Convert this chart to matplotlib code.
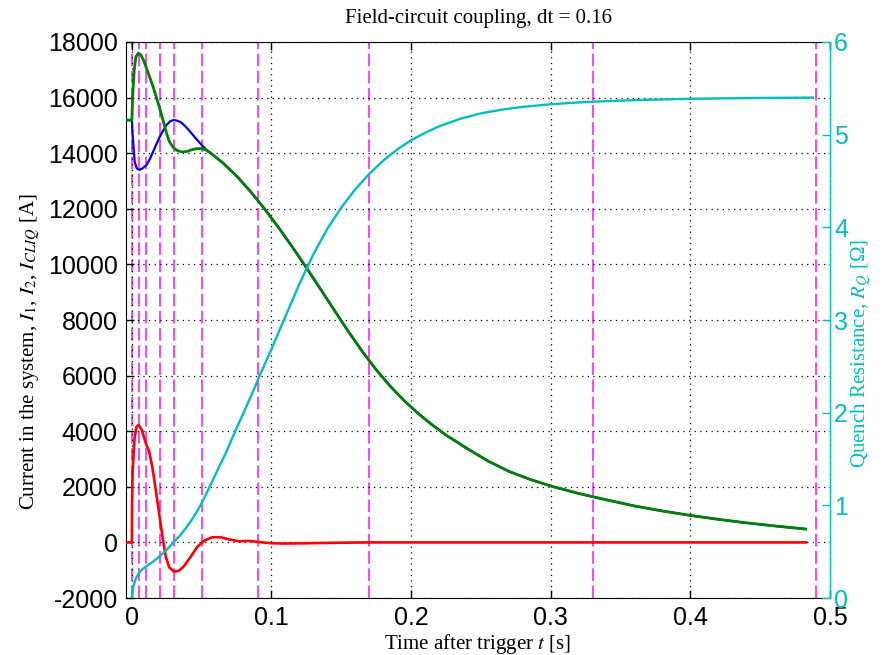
import matplotlib
matplotlib.use('Agg')
import matplotlib.pyplot as plt

plt.rcParams['mathtext.fontset'] = 'stix'
plt.rcParams['axes.unicode_minus'] = False

serif = 'Liberation Serif'
sans = 'Liberation Sans'

# coil currents I1 (blue) and I2 (green) before they merge, then the common decay
t_i1 = [-0.0042, 0.0, 0.0005, 0.001, 0.002, 0.0035, 0.0055, 0.0075, 0.0105, 0.013, 0.0152,
        0.0176, 0.02, 0.0225, 0.0248, 0.0275, 0.030, 0.033, 0.0355, 0.039, 0.0417, 0.046,
        0.050, 0.053]
i1 = [15190, 15190, 14700, 14360, 13700, 13450, 13400, 13450, 13575, 13800, 14055,
      14330, 14595, 14820, 15015, 15150, 15195, 15160, 15100, 14930, 14775, 14520,
      14295, 14140]

t_i2 = [-0.0042, 0.0, 0.0004, 0.0008, 0.0017, 0.0029, 0.0047, 0.0065, 0.0085, 0.0105,
        0.013, 0.0152, 0.0176, 0.02, 0.0225, 0.0248, 0.0266, 0.0283, 0.030, 0.032, 0.0345,
        0.0367, 0.040, 0.0426, 0.046, 0.0498, 0.053]
i2 = [15190, 15190, 15800, 16250, 16990, 17470, 17600, 17530, 17330, 17050,
      16700, 16390, 16000, 15610, 15150, 14720, 14450, 14300, 14190, 14110, 14060,
      14045, 14070, 14120, 14160, 14170, 14120]

t_tail = [0.056, 0.065, 0.075, 0.085, 0.095, 0.105, 0.115, 0.125, 0.135, 0.145,
          0.155, 0.165, 0.175, 0.185, 0.195, 0.205, 0.215, 0.225, 0.24, 0.255,
          0.27, 0.285, 0.30, 0.32, 0.34, 0.36, 0.38, 0.40, 0.42, 0.44,
          0.46, 0.4826]
i_tail = [14020, 13660, 13180, 12620, 12000, 11330, 10620, 9880, 9120, 8350,
          7590, 6870, 6210, 5620, 5100, 4640, 4230, 3860, 3380, 2930,
          2555, 2270, 2030, 1760, 1530, 1310, 1130, 970, 830, 704,
          594, 481]

# CLIQ current (red)
t_clq = [-0.0042, 0.0, 0.0001, 0.0005, 0.0019, 0.0033, 0.0048, 0.0071, 0.01, 0.0124,
         0.0148, 0.0171, 0.0195, 0.0219, 0.0243, 0.0267, 0.0302, 0.0338, 0.0374, 0.0421,
         0.0469, 0.0517, 0.0576, 0.0636, 0.0695, 0.0767, 0.0838, 0.0933, 0.10, 0.11,
         0.125, 0.15, 0.17, 0.4826]
i_clq = [0, 0, 1400, 2490, 3745, 4160, 4225, 4045, 3565, 3265,
         2665, 1885, 1045, 205, -515, -895, -1055, -1015, -850, -515,
         -155, 60, 185, 185, 110, 40, 55, 0, -30, -40,
         -30, -10, 0, 0]

# quench resistance (cyan, right axis)
t_rq = [0.0, 0.0005, 0.001, 0.0024, 0.0048, 0.0075, 0.01, 0.015, 0.0195, 0.0243, 0.0302,
        0.0345, 0.0386, 0.0425, 0.046, 0.0495, 0.0535, 0.0576, 0.062, 0.0671, 0.072,
        0.0767, 0.0815, 0.0865, 0.0915, 0.0998, 0.11, 0.12, 0.13, 0.14, 0.15,
        0.16, 0.17, 0.18, 0.19, 0.20, 0.21, 0.22, 0.235, 0.25, 0.265, 0.28,
        0.30, 0.32, 0.34, 0.37, 0.40, 0.44, 0.4876]
r_q = [0.0, 0.08, 0.12, 0.194, 0.267, 0.31, 0.338, 0.39, 0.446, 0.51, 0.608,
       0.675, 0.752, 0.835, 0.92, 1.01, 1.13, 1.26, 1.40, 1.56, 1.73,
       1.89, 2.05, 2.22, 2.40, 2.68, 3.04, 3.39, 3.71, 3.985, 4.215,
       4.41, 4.577, 4.72, 4.84, 4.94, 5.02, 5.09, 5.17, 5.23, 5.27, 5.30,
       5.328, 5.348, 5.362, 5.377, 5.387, 5.395, 5.40]

# time-step boundaries
t_steps = [0.0, 0.005, 0.01, 0.02, 0.03, 0.05, 0.09, 0.17, 0.33, 0.49]

x_ticks = [0, 0.1, 0.2, 0.3, 0.4, 0.5]
x_tick_labels = ['0', '0.1', '0.2', '0.3', '0.4', '0.5']
y_ticks = list(range(-2000, 18001, 2000))
r_ticks = [0, 1, 2, 3, 4, 5, 6]

cyan = '#00bfbf'

fig = plt.figure(figsize=(8.83, 6.55), dpi=100)
ax = fig.add_axes([0.1427, 0.0870, 0.7973, 0.8489])

for ts in t_steps:
    ax.axvline(ts, color='#ff33ff', lw=1.3, ls=(0, (7, 2.5)), zorder=1)

ax.plot(t_i1 + t_tail, i1 + i_tail, color='#0000ff', lw=1.6, zorder=3)
ax.plot(t_i2 + t_tail, i2 + i_tail, color='#008000', lw=2.0, zorder=4)
ax.plot(t_clq, i_clq, color='#ff0000', lw=1.9, zorder=5)

ax.set_xlim(-0.0042, 0.5)
ax.set_ylim(-2000, 18000)
ax.set_xticks(x_ticks)
ax.set_xticklabels(x_tick_labels)
ax.set_yticks(y_ticks)
ax.grid(True, color='k', ls=(0, (1, 3.5)), lw=0.9)
ax.tick_params(direction='in', top=True, right=True, length=6, width=1,
               labelsize=18, pad=6)
for lab in ax.get_xticklabels() + ax.get_yticklabels():
    lab.set_fontfamily(sans)

ax.set_title('Field-circuit coupling, dt = 0.16', fontfamily=serif, fontsize=15, pad=14)
ax.set_xlabel(r'Time after trigger $t$ [s]', fontfamily=serif, fontsize=15, labelpad=1)
ax.set_ylabel(r'Current in the system, $I_1$, $I_2$, $I_{CLIQ}$ [A]',
              fontfamily=serif, fontsize=15)
ax.yaxis.set_label_coords(-0.12, 0.443)

ax2 = ax.twinx()
ax2.plot(t_rq, r_q, color=cyan, lw=1.7)
ax2.set_ylim(0, 6)
ax2.set_yticks(r_ticks)
ax2.tick_params(direction='in', length=6, width=1, colors=cyan, labelsize=18, pad=3)
for lab in ax2.get_yticklabels():
    lab.set_fontfamily(sans)
for side in ['left', 'top', 'bottom']:
    ax2.spines[side].set_visible(False)
ax2.spines['right'].set_color(cyan)
ax2.set_ylabel(r'Quench Resistance, $R_Q$ [Ω]', fontfamily=serif, fontsize=15, color=cyan)
ax2.yaxis.set_label_coords(1.027, 0.439)

fig.savefig('out.png', dpi=100)
